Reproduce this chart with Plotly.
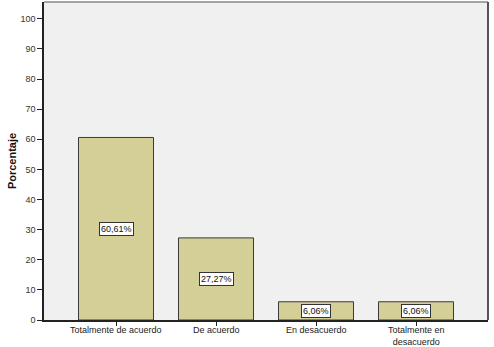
import plotly.graph_objects as go

categories = ["Totalmente de acuerdo", "De acuerdo", "En desacuerdo", "Totalmente en<br>desacuerdo"]
values = [60.61, 27.27, 6.06, 6.06]
labels = ["60,61%", "27,27%", "6,06%", "6,06%"]
yticks = [0, 10, 20, 30, 40, 50, 60, 70, 80, 90, 100]

fig = go.Figure()
fig.add_trace(go.Bar(
    x=list(range(len(categories))), y=values, width=0.75,
    marker=dict(color="#D3CF96", line=dict(color="#3a3a3a", width=1)),
    hoverinfo="skip",
))

for i, (v, t) in enumerate(zip(values, labels)):
    fig.add_annotation(x=i, y=v / 2, text=t, showarrow=False,
                       bgcolor="white", bordercolor="#333", borderwidth=1, borderpad=1,
                       font=dict(family="Liberation Sans, Arial", size=9, color="#111"))

for i, c in enumerate(categories):
    fig.add_annotation(x=i, y=0, yref="paper", text=c, showarrow=False,
                       yanchor="top", yshift=-4, align="center", borderpad=0,
                       font=dict(family="Liberation Sans, Arial", size=9, color="#222"))

fig.update_layout(
    width=494, height=347,
    margin=dict(l=44, r=6, t=2, b=27),
    paper_bgcolor="white", plot_bgcolor="#F0F0F0",
    showlegend=False,
    font=dict(family="Liberation Sans, Arial", size=9, color="#222"),
    xaxis=dict(range=[-0.72, 3.72], tickvals=list(range(len(categories))), showticklabels=False,
               ticks="outside", ticklen=4, tickcolor="#222", showgrid=False, zeroline=False,
               showline=True, linecolor="#222", linewidth=1.5, mirror=False, automargin=False),
    yaxis=dict(range=[0, 105.6], tickvals=yticks, ticks="outside", ticklen=5, tickcolor="#222",
               showgrid=False, zeroline=False, showline=True, linecolor="#222", linewidth=1.5,
               automargin=False,
               title=dict(text="<b>Porcentaje</b>", font=dict(size=11, color="#111"), standoff=2),
               tickfont=dict(size=9, color="#333")),
)
# frame top and right
fig.add_shape(type="line", xref="paper", yref="paper", x0=0, x1=1, y0=1, y1=1,
              line=dict(color="#888", width=1.5))
fig.add_shape(type="line", xref="paper", yref="paper", x0=1, x1=1, y0=0, y1=1,
              line=dict(color="#555", width=2))

fig.write_html("out.html")
